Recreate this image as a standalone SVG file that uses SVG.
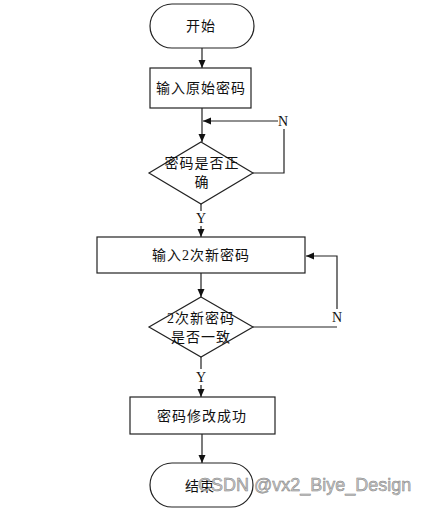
<svg xmlns="http://www.w3.org/2000/svg" width="430" height="512" viewBox="0 0 430 512">
<style>
.shape{fill:#fff;stroke:#222;stroke-width:1.2}
.conn{fill:none;stroke:#222;stroke-width:1.2}
.t{font-family:"Liberation Serif","Noto Sans CJK SC",serif;font-size:14px;letter-spacing:1px;fill:#111;text-anchor:middle;dominant-baseline:central}
.lbl{font-family:"Liberation Serif",serif;font-size:14px;fill:#111;text-anchor:middle;dominant-baseline:central}
.wm{font-family:"Liberation Sans","DejaVu Sans",sans-serif;font-size:18px;fill:#c8c8c8;stroke:#808080;stroke-width:0.5}
</style>
<defs>
<marker id="arr" markerUnits="userSpaceOnUse" markerWidth="9" markerHeight="8" refX="8" refY="3.5" orient="auto">
<path d="M0,0 L8,3.5 L0,7 z" fill="#111"/>
</marker>
</defs>
<rect width="430" height="512" fill="#fff"/>
<g id="connectors">
<path class="conn" d="M202,48 V68" marker-end="url(#arr)"/>
<path class="conn" d="M202,108 V142" marker-end="url(#arr)"/>
<path class="conn" d="M253,173 H284 V129 M278,121 H203" marker-end="url(#arr)"/>
<path class="conn" d="M201,204 V211 M201,226 V237" marker-end="url(#arr)"/>
<path class="conn" d="M201,273 V297" marker-end="url(#arr)"/>
<path class="conn" d="M253,327 H337 M337,309 V256 H306" marker-end="url(#arr)"/>
<path class="conn" d="M201,357 V369 M201,385 V397" marker-end="url(#arr)"/>
<path class="conn" d="M202,434 V463" marker-end="url(#arr)"/>
<text class="lbl" x="283" y="121">N</text>
<text class="lbl" x="201" y="218">Y</text>
<text class="lbl" x="337" y="317">N</text>
<text class="lbl" x="201" y="377">Y</text>
</g>
<g id="start">
<rect class="shape" x="150" y="4" width="104" height="44" rx="22"/>
<text class="t" x="201" y="26">开始</text>
</g>
<g id="input-old">
<rect class="shape" x="150" y="68" width="101" height="40"/>
<text class="t" x="201" y="88">输入原始密码</text>
</g>
<g id="check-old">
<polygon class="shape" points="201,142 253,173 201,204 149,173"/>
<text class="t" x="202" y="163">密码是否正</text>
<text class="t" x="202" y="182">确</text>
</g>
<g id="input-new">
<rect class="shape" x="97" y="237" width="208" height="36"/>
<text class="t" x="201" y="255">输入2次新密码</text>
</g>
<g id="check-new">
<polygon class="shape" points="201,297 253,327 201,357 149,327"/>
<text class="t" x="201" y="318">2次新密码</text>
<text class="t" x="201" y="337">是否一致</text>
</g>
<g id="success">
<rect class="shape" x="130" y="397" width="145" height="37"/>
<text class="t" x="202" y="416">密码修改成功</text>
</g>
<g id="end">
<rect class="shape" x="150" y="463" width="103" height="44" rx="22"/>
<text class="t" x="200" y="486">结束</text>
</g>
<text class="wm" x="198" y="491">CSDN @vx2_Biye_Design</text>
</svg>
